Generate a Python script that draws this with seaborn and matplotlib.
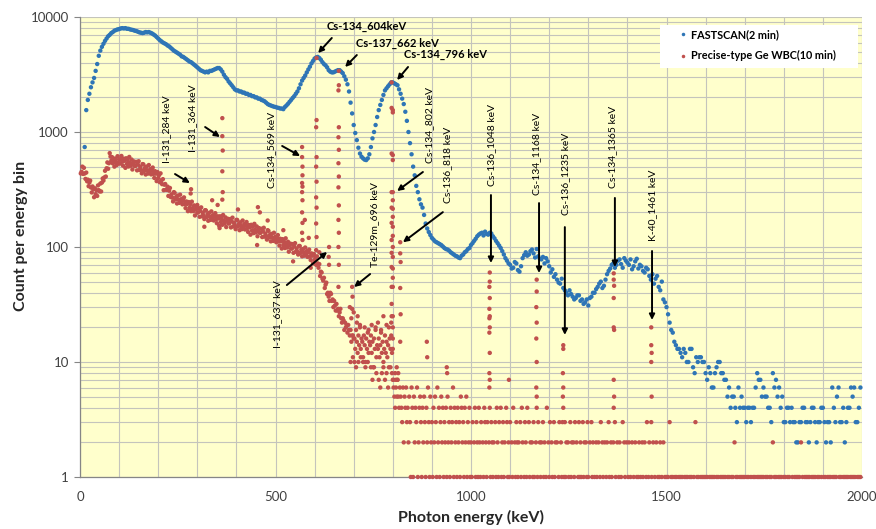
import numpy as np
import pandas as pd
import matplotlib
matplotlib.use("Agg")
import matplotlib.pyplot as plt
from matplotlib.patches import Rectangle
from matplotlib.ticker import FixedLocator, MultipleLocator, NullFormatter
import seaborn as sns

# ---------------------------------------------------------------------------
# FASTSCAN spectrum (2 min): 4 keV channels, first channel centred at 12 keV
# ---------------------------------------------------------------------------
fast_first_kev = 12
fast_channel_kev = 4
fast_counts = [
    740, 1550, 1900, 2150, 2450, 2700, 2950, 3400, 3900, 4600,
    5100, 5500, 5850, 6200, 6500, 6800, 7000, 7250, 7400, 7600,
    7700, 7800, 7850, 7950, 8000, 7950, 8000, 7900, 7900, 7800,
    7750, 7700, 7600, 7550, 7450, 7350, 7300, 7250, 7300, 7400,
    7350, 7400, 7300, 7200, 7050, 6900, 6700, 6500, 6300, 6150,
    6000, 5900, 5800, 5650, 5550, 5400, 5250, 5100, 5000, 4900,
    4800, 4700, 4550, 4500, 4400, 4300, 4200, 4100, 4050, 3950,
    3850, 3750, 3650, 3550, 3450, 3400, 3350, 3300, 3350, 3300,
    3400, 3400, 3450, 3500, 3550, 3600, 3600, 3500, 3350, 3150,
    3000, 2900, 2750, 2650, 2550, 2450, 2350, 2300, 2300, 2250,
    2250, 2200, 2200, 2150, 2150, 2100, 2100, 2050, 2050, 2000,
    2000, 1950, 1950, 1900, 1880, 1850, 1800, 1750, 1720, 1700,
    1680, 1660, 1650, 1630, 1620, 1600, 1600, 1580, 1650, 1700,
    1760, 1830, 1900, 1980, 2050, 2150, 2250, 2400, 2600, 2800,
    2950, 3100, 3300, 3500, 3700, 3950, 4150, 4350, 4450, 4500,
    4400, 4250, 4050, 3900, 3800, 3650, 3450, 3350, 3300, 3300,
    3350, 3400, 3450, 3450, 3350, 3250, 3050, 2850, 2600, 2250,
    1800, 1450, 1150, 980, 850, 730, 650, 610, 590, 575,
    570, 590, 640, 740, 880, 1000, 1150, 1350, 1550, 1720,
    1900, 2100, 2300, 2400, 2500, 2600, 2700, 2700, 2650, 2600,
    2550, 2350, 2150, 1950, 1750, 1500, 1250, 1000, 800, 640,
    500, 420, 340, 300, 260, 235, 220, 190, 160, 145,
    135, 127, 120, 116, 112, 110, 108, 106, 104, 101,
    98, 96, 95, 93, 90, 88, 86, 84, 83, 81,
    80, 84, 86, 90, 92, 96, 98, 104, 108, 113,
    118, 124, 128, 131, 133, 126, 136, 130, 128, 133,
    131, 124, 119, 113, 108, 103, 98, 92, 86, 80,
    76, 72, 70, 65, 66, 74, 72, 63, 61, 68,
    80, 85, 90, 84, 86, 92, 95, 88, 81, 96,
    83, 79, 78, 82, 72, 80, 75, 68, 60, 64,
    55, 58, 52, 49, 48, 53, 44, 42, 40, 38,
    42, 39, 37, 35, 36, 38, 38, 34, 35, 32,
    33, 35, 31, 36, 37, 40, 40, 43, 45, 48,
    50, 44, 46, 52, 58, 62, 65, 70, 72, 66,
    70, 76, 78, 71, 66, 80, 76, 73, 70, 78,
    64, 68, 75, 79, 65, 70, 68, 62, 60, 66,
    64, 56, 52, 58, 48, 53, 56, 45, 42, 50,
    35, 33, 30, 26, 22, 19, 18, 15, 14, 13,
    13, 12, 11, 13, 12, 10, 10, 13, 13, 9,
    8, 11, 10, 11, 11, 10, 10, 8, 7, 9,
    8, 6, 6, 8, 9, 10, 10, 8, 8, 7,
    7, 5, 6, 4, 5, 5, 4, 3, 6, 4,
    5, 4, 4, 3, 4, 4, 3, 4, 4, 6,
    8, 7, 7, 5, 6, 5, 5, 4, 4, 3,
    8, 6, 7, 5, 6, 4, 5, 3, 3, 4,
    4, 3, 4, 3, 3, 2, 2, 3, 3, 4,
    4, 3, 3, 2, 3, 4, 4, 3, 2, 3,
    3, 4, 4, 3, 2, 3, 3, 2, 6, 4,
    3, 5, 6, 3, 3, 4, 2, 3, 4, 4,
    6, 5, 6, 3, 3, 4, 6,
]

# ---------------------------------------------------------------------------
# Precise-type Ge WBC spectrum (10 min)
# continuum below 800 keV: 2 keV channels centred at 2, 4, ... 798 keV
# ---------------------------------------------------------------------------
ge_low_first_kev = 2
ge_channel_kev = 2
ge_low_counts = [
    436, 451, 500, 432, 488, 436, 391, 444, 373, 385,
    338, 363, 378, 329, 298, 336, 317, 271, 324, 288,
    312, 278, 343, 312, 304, 356, 304, 363, 394, 378,
    402, 460, 410, 484, 544, 479, 535, 655, 612, 563,
    605, 533, 566, 500, 588, 549, 516, 616, 538, 577,
    531, 582, 619, 551, 510, 586, 562, 488, 591, 528,
    570, 501, 607, 539, 509, 576, 472, 538, 555, 505,
    508, 550, 464, 521, 557, 468, 499, 470, 437, 526,
    523, 459, 486, 427, 500, 465, 435, 516, 448, 476,
    428, 464, 491, 433, 399, 456, 434, 374, 449, 398,
    421, 366, 437, 380, 352, 389, 312, 348, 353, 315,
    314, 335, 278, 309, 326, 272, 287, 269, 249, 300,
    296, 259, 273, 239, 280, 259, 242, 285, 247, 262,
    235, 254, 270, 237, 218, 249, 237, 205, 246, 219,
    235, 205, 248, 218, 205, 230, 188, 213, 219, 199,
    200, 217, 183, 206, 221, 185, 198, 187, 175, 209,
    208, 182, 193, 169, 198, 184, 172, 204, 178, 189,
    170, 185, 197, 174, 161, 185, 177, 153, 185, 165,
    178, 156, 190, 169, 160, 181, 149, 169, 176, 160,
    161, 175, 148, 167, 180, 151, 162, 154, 143, 172,
    172, 151, 159, 140, 164, 152, 143, 170, 147, 158,
    142, 155, 165, 146, 135, 155, 148, 128, 156, 139,
    150, 132, 159, 141, 134, 151, 124, 141, 146, 133,
    133, 144, 122, 137, 147, 123, 131, 125, 116, 140,
    138, 121, 128, 112, 130, 121, 113, 133, 115, 123,
    110, 119, 127, 112, 103, 118, 112, 97, 117, 104,
    111, 98, 119, 105, 99, 111, 91, 104, 107, 97,
    97, 106, 89, 101, 108, 91, 97, 91, 86, 102,
    102, 89, 95, 83, 96, 90, 84, 99, 86, 92,
    82, 90, 95, 83, 77, 88, 84, 72, 87, 77,
    81, 70, 83, 72, 66, 71, 56, 61, 60, 53,
    51, 54, 44, 47, 49, 39, 40, 37, 34, 40,
    39, 34, 35, 30, 34, 31, 28, 32, 28, 29,
    25, 27, 29, 24, 22, 24, 23, 19, 22, 20,
    21, 18, 21, 19, 17, 19, 15, 17, 17, 16,
    16, 13, 19, 15, 12, 17, 14, 20, 13, 16,
    15, 11, 17, 14, 10, 16, 13, 18, 12, 15,
    14, 17, 12, 15, 9, 16, 13, 19, 11, 14,
    13, 16, 11, 14, 18, 12, 15, 10, 13, 17,
    12, 15, 11, 14, 9, 16, 13, 17, 12,
]

# counts from 800 keV upward, 2 keV channels, one digit per channel (100 keV per string)
ge_high_first_kev = 800
ge_high_digits = [
    "7654657546" "5436254634" "2531641524" "3612453142" "5314263152",
    "3142531624" "1352413241" "5231423614" "2314231542" "3142513241",
    "2130241321" "4213021432" "1302413212" "0314213041" "2312043121",
    "3021402132" "1203142013" "2140312021" "3102413021" "2031201402",
    "1302103120" "2013021301" "3120210312" "0213020131" "2103120213",
    "1020312010" "2102013021" "0201203102" "1020310201" "2010302102",
    "0120102010" "2010120102" "1020130120" "0102010201" "0120102010",
    "1010301010" "0101001010" "1001010100" "1010010301" "0100101010",
    "1010010101" "0100101001" "0101010010" "1001010201" "0100101010",
    "1001010010" "0101001010" "1010100101" "0010102010" "1001010100",
    "1010010100" "0100101010" "1020100101" "0101001010" "1001010010",
    "0101001010" "1001010100" "0101001010" "1010010101" "0100101010",
]

# fine channels around the photopeaks and scattered channels off the continuum
ge_peak_kev = [
    284, 283,
    364, 364, 365, 364, 365, 364,
    568, 568, 569, 569, 568, 569, 568, 569, 568, 569, 568, 569,
    605, 605, 604, 605, 604, 605, 604, 605, 604, 605, 604,
    637, 636, 637,
    662, 662, 661, 662, 661, 662, 661, 662, 661, 662, 661, 662, 661, 662, 661,
    696, 697, 696,
    797, 797, 800, 800, 797, 800, 800, 797, 800, 800, 797, 800, 800, 797, 800,
    800, 797, 800, 797, 800, 797, 800, 800, 797, 800, 797, 800, 797, 800, 800, 800,
    819, 819, 820, 819, 820, 819,
    887, 888, 938, 939,
    1048, 1048, 1047, 1048, 1047, 1048, 1047, 1048, 1047, 1048, 1047, 1048, 1047,
    1097,
    1168, 1168, 1167, 1168, 1167, 1168, 1167, 1168,
    1236, 1236, 1235, 1236, 1235, 1236,
    1365, 1365, 1366, 1365, 1365, 1366, 1365, 1366, 1365,
    1461, 1461, 1462, 1461, 1462, 1461,
    338, 352, 357, 404, 455, 460, 453, 575, 300, 318, 480, 520, 545, 585, 612, 590,
    692, 698, 702, 706, 712, 718, 724, 730, 736, 744, 748, 752, 758, 764, 768,
    772, 776, 780, 784, 788, 794, 798,
    694, 708, 716, 728, 738, 746, 756, 762, 770, 776, 784, 790, 796, 690, 700, 710,
    802, 806, 808, 810, 812, 814,
]
ge_peak_counts = [
    318, 292,
    1320, 920, 690, 455, 300, 258,
    740, 605, 500, 420, 360, 335, 300, 255, 200, 162, 133, 115,
    4400, 1270, 1100, 605, 500, 370, 270, 220, 160, 122, 94,
    100, 82, 70,
    3400, 2550, 2300, 1100, 900, 700, 535, 410, 330, 230, 172, 133, 100, 70, 45,
    45, 37, 29,
    2700, 1620, 1550, 1480, 650, 630, 570, 300, 300, 255, 220, 215, 183, 162, 150,
    125, 115, 100, 89, 82, 67, 65, 54, 45, 45, 32, 25, 25, 20, 16, 13,
    110, 88, 74, 44, 26, 15,
    15, 11, 9, 8,
    60, 50, 45, 36, 29, 25, 24, 20, 18, 12, 8, 7, 6,
    7,
    52, 41, 30, 22, 16, 10, 6, 5,
    14, 13, 8, 6, 5, 4,
    59, 52, 46, 36, 20, 19, 7, 5, 4,
    20, 14, 12, 10, 5, 3,
    255, 232, 146, 212, 222, 200, 104, 172, 232, 150, 170, 140, 75, 120, 90, 66,
    10, 11, 10, 9, 10, 11, 10, 9, 10, 9, 7, 9, 8, 7, 6,
    8, 9, 7, 8, 6, 9, 8,
    24, 22, 21, 20, 19, 21, 20, 22, 19, 25, 21, 20, 22, 30, 27, 25,
    7, 8, 7, 9, 7, 8,
]

series_names = ["FASTSCAN(2 min)", "Precise-type Ge WBC(10 min)"]

# nuclide labels: text, text anchor (keV, counts), rotation, weight,
# arrow tail (keV, counts), arrow head (keV, counts)
peak_labels = [
    ("Cs-134_604keV", (734, 8350), 0, "bold", (644, 6570), (609, 4860)),
    ("Cs-137_662 keV", (811, 5940), 0, "bold", (708, 4670), (678, 3675)),
    ("Cs-134_796 keV", (934, 4770), 0, "bold", (839, 3675), (811, 2830)),
    ("I-131_284 keV", (222, 1062), 90, "normal", (243, 431), (281, 360)),
    ("I-131_364 keV", (289, 1324), 90, "normal", (320, 1105), (358, 905)),
    ("Cs-134_569 keV", (491, 697), 90, "normal", (517, 756), (563, 618)),
    ("I-131_637 keV", (506, 26.1), 90, "normal", (529, 46.7), (632, 90.5)),
    ("Te-129m_696 keV", (754, 158), 90, "normal", (742, 58.2), (701, 44.9)),
    ("Cs-134_802 keV", (895, 1151), 90, "normal", (877, 449), (811, 307)),
    ("Cs-136_818 keV", (941, 517), 90, "normal", (928, 201), (826, 110)),
    ("Cs-136_1048 keV", (1054, 771), 90, "normal", (1051, 283), (1051, 72.6)),
    ("Cs-134_1168 keV", (1169, 644), 90, "normal", (1174, 241), (1174, 59.4)),
    ("Cs-136_1235 keV", (1243, 431), 90, "normal", (1240, 149), (1240, 17.2)),
    ("Cs-134_1365 keV", (1363, 741), 90, "normal", (1368, 267), (1368, 67)),
    ("K-40_1461 keV", (1465, 232), 90, "normal", (1463, 92.3), (1463, 23.2)),
]

# ---------------------------------------------------------------------------
# assemble long-form table
# ---------------------------------------------------------------------------
fast_kev = fast_first_kev + fast_channel_kev * np.arange(len(fast_counts))
ge_low_kev = ge_low_first_kev + ge_channel_kev * np.arange(len(ge_low_counts))
ge_high_counts = [int(c) for c in "".join(ge_high_digits)]
ge_high_kev = ge_high_first_kev + ge_channel_kev * np.arange(len(ge_high_counts))

fast_df = pd.DataFrame({"energy": fast_kev, "count": fast_counts,
                        "series": series_names[0]})
ge_df = pd.DataFrame({
    "energy": np.concatenate([ge_low_kev, ge_high_kev, ge_peak_kev]),
    "count": np.concatenate([ge_low_counts, ge_high_counts, ge_peak_counts]),
    "series": series_names[1],
})
spectra = pd.concat([fast_df, ge_df], ignore_index=True)
spectra = spectra[spectra["count"] > 0]

# ---------------------------------------------------------------------------
# figure
# ---------------------------------------------------------------------------
plt.rcParams["font.family"] = ["Lato", "DejaVu Sans"]
blue = "#2E75B6"
red = "#C0504D"

fig = plt.figure(figsize=(8.76, 5.29), dpi=100)
fig.patch.set_facecolor("white")
ax = fig.add_axes([80 / 876, 1 - 477 / 529, 782 / 876, 460 / 529])
ax.set_facecolor("#FFFFCC")

sns.scatterplot(data=spectra, x="energy", y="count", hue="series",
                hue_order=series_names, palette=[blue, red],
                s=10, linewidth=0, ax=ax, legend=True, zorder=3)
for coll in ax.collections:
    coll.set_clip_on(False)

ax.set_yscale("log")
ax.set_xlim(0, 2000)
ax.set_ylim(1, 10000)

ax.xaxis.set_major_locator(FixedLocator([0, 500, 1000, 1500, 2000]))
ax.xaxis.set_minor_locator(MultipleLocator(100))
ax.yaxis.set_major_locator(FixedLocator([1, 10, 100, 1000, 10000]))
ax.yaxis.set_minor_locator(FixedLocator(
    [m * 10 ** d for d in range(4) for m in range(2, 10)]))
ax.yaxis.set_minor_formatter(NullFormatter())
ax.set_yticklabels(["1", "10", "100", "1000", "10000"])
ax.set_xticklabels(["0", "500", "1000", "1500", "2000"])

ax.grid(which="both", color="#C4C4BC", lw=0.8)
ax.set_axisbelow(True)
ax.tick_params(axis="x", which="both", length=0, pad=10,
               labelsize=9.5, labelcolor="#404040")
ax.tick_params(axis="y", which="major", length=4, color="#868686",
               labelsize=9.5, labelcolor="#404040", pad=4)
ax.tick_params(axis="y", which="minor", length=0)
for side in ("top", "right"):
    ax.spines[side].set_visible(False)
for side in ("left", "bottom"):
    ax.spines[side].set_color("#868686")
    ax.spines[side].set_linewidth(0.9)

ax.set_xlabel("Photon energy (keV)", fontsize=11.5, fontweight="bold",
              color="#262626")
ax.set_ylabel("Count per energy bin", fontsize=11.5, fontweight="bold",
              color="#262626")
ax.xaxis.set_label_coords(0.5, -0.072)
ax.yaxis.set_label_coords(-0.066, 0.525)

for text, pos, rot, weight, tail, head in peak_labels:
    ax.text(pos[0], pos[1], text, rotation=rot, ha="center", va="center",
            fontsize=8 if rot == 0 else 7.5, fontweight=weight,
            color="black", zorder=5)
    ax.annotate("", xy=head, xytext=tail, zorder=5,
                arrowprops=dict(arrowstyle="-|>", color="black", lw=1.4,
                                mutation_scale=8, shrinkA=0, shrinkB=0))

# legend on a white panel in the upper right corner
ax.add_patch(Rectangle(((660 - 80) / 782, (477 - 68) / 460),
                       198 / 782, 43 / 460, transform=ax.transAxes,
                       facecolor="white", edgecolor="none", zorder=6,
                       clip_on=False))
handles, labels = ax.get_legend_handles_labels()
leg = ax.legend(handles, labels, loc="upper left",
                bbox_to_anchor=((679 - 80) / 782, (477 - 29) / 460),
                borderaxespad=0, borderpad=0, frameon=False,
                markerscale=0.8, handlelength=0.8, handletextpad=0.35,
                labelspacing=0.95, prop={"weight": "bold", "size": 7.8})
leg.set_zorder(7)

fig.savefig("out.png", dpi=100, facecolor="white")
